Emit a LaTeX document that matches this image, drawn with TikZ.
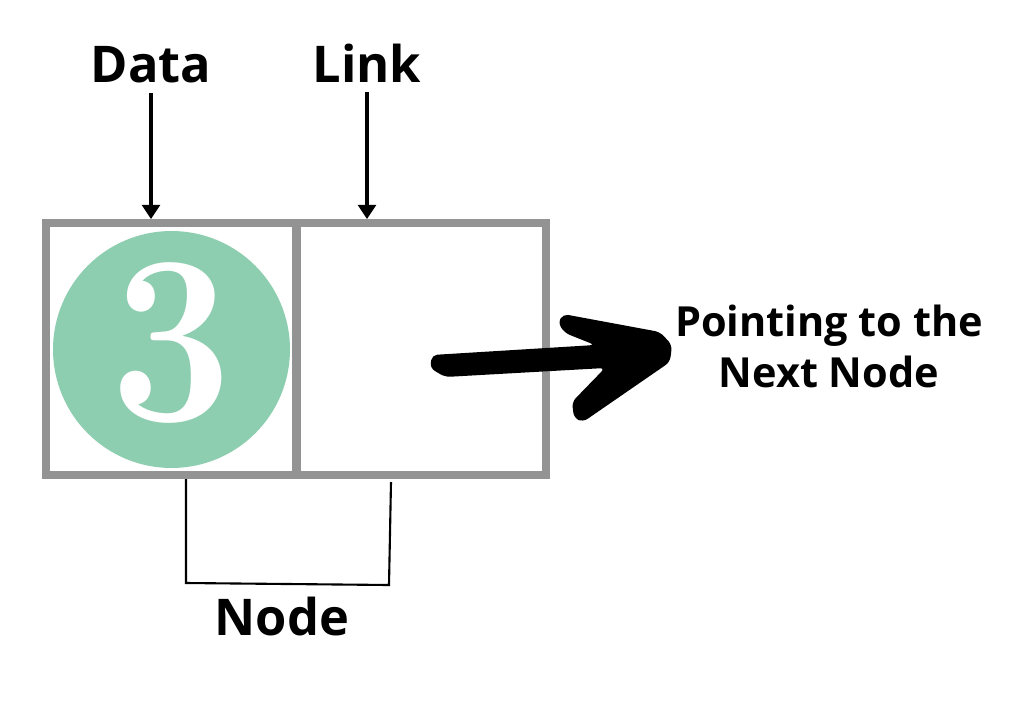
\documentclass[tikz,border=0pt]{standalone}
\usepackage{fontspec}
\newfontfamily\osans{Open Sans}
\usetikzlibrary{arrows.meta}
\definecolor{boxgray}{HTML}{939393}
\definecolor{mint}{HTML}{8DCDB0}

\begin{document}
\begin{tikzpicture}[x=0.02cm,y=-0.02cm,
    tag/.style={font=\osans\bfseries\fontsize{28.8}{35}\selectfont, inner sep=0pt, anchor=base},
    cell/.style={draw=boxgray, line width=0.16cm, minimum width=5cm, minimum height=5.04cm, inner sep=0pt},
    pointer/.style={line width=2.2pt, -{Triangle[length=8pt,width=10pt]}}]
    \useasboundingbox (0,0) rectangle (1029,718);
    \node[circle, fill=mint, minimum size=4.74cm, inner sep=0pt] (digit) at (171.5,349.5) {};
    \node[text=white, inner sep=0pt, xscale=0.9, font=\bfseries\fontsize{137}{137}\selectfont] (three) at ([yshift=0.13cm]digit.center) {3};
    \node[cell] (datacell) at (171,349) {};
    \node[cell] (linkcell) at (421.5,349) {};
    \node[tag] (data) at (151,82) {Data};
    \node[tag] (link) at (367,82) {Link};
    \node[tag] (nodelbl) at (282,635) {Node};
    \node[font=\osans\bfseries\fontsize{23.6}{28.9}\selectfont, align=center, anchor=north, inner sep=0pt] (next) at (829,305) {Pointing to the\\Next Node};
    \draw[pointer] ([yshift=-0.2cm]data.south) -- (data.south |- datacell.north);
    \draw[pointer] ([yshift=-0.2cm]link.south) -- (link.south |- linkcell.north);
    \draw[line width=1.2pt] (186,479) -- (186,583) -- (389,585) -- (391,482);
    \fill[rounded corners=3] (432,355) -- (595,345) -- (565,333) -- (558,323) -- (563,314)
        -- (660,332) -- (672,345) -- (670,362) -- (583,422) -- (574,418) -- (572,402)
        -- (605,368) -- (445,377) -- (430,368) -- cycle;
\end{tikzpicture}
\end{document}
